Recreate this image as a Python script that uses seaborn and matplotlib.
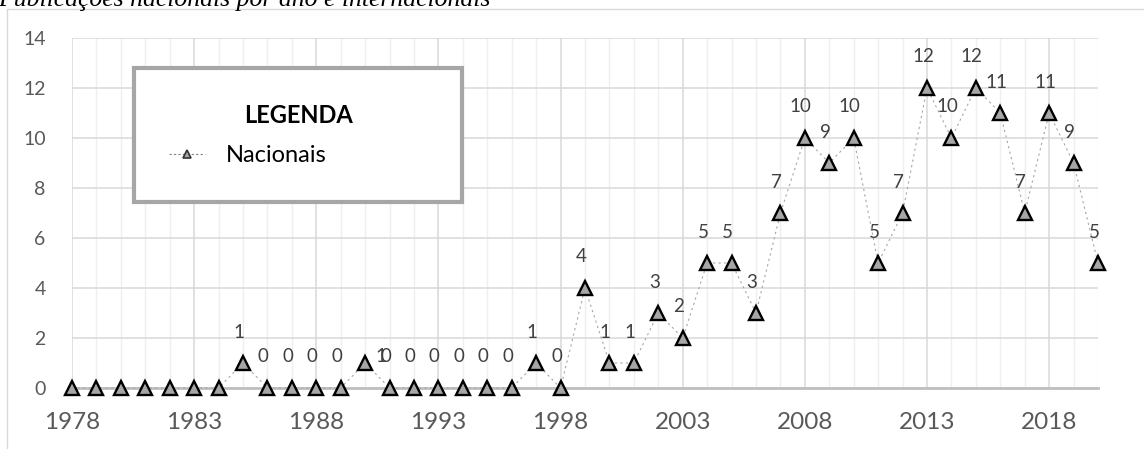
import numpy as np
import pandas as pd
import matplotlib
matplotlib.use("Agg")
import matplotlib.pyplot as plt
from matplotlib.lines import Line2D
from matplotlib.patches import Rectangle
from matplotlib.ticker import MultipleLocator
import seaborn as sns

# data
anos = list(range(1978, 2021))
nacionais = [0, 0, 0, 0, 0, 0, 0,        # 1978-1984
             1, 0, 0, 0, 0,              # 1985-1989
             1, 0, 0, 0, 0, 0, 0,        # 1990-1996
             1, 0, 4, 1, 1, 3, 2,        # 1997-2003
             5, 5, 3, 7, 10, 9, 10,      # 2004-2010
             5, 7, 12, 10, 12, 11, 7,    # 2011-2017
             11, 9, 5]                   # 2018-2020
primeiro_rotulo = 1985  # excel hides the labels before this year
titulo = "Publicações nacionais por ano e internacionais"

sns.set_theme(style="white")
plt.rcParams["font.family"] = ["Lato", "DejaVu Sans"]

df = pd.DataFrame({"ano": anos, "nacionais": nacionais})

W, H = 1144, 449
fig = plt.figure(figsize=(W / 100, H / 100), dpi=100)
ax = fig.add_axes([72 / W, (H - 388) / H, 1026 / W, 350 / H])

sns.lineplot(data=df, x="ano", y="nacionais", ax=ax, color="#a6a6a6",
             linewidth=0.8, linestyle=(0, (2, 3)), marker="^", markersize=9.5,
             markerfacecolor="#a6a6a6", markeredgecolor="black",
             markeredgewidth=1.7, clip_on=False, zorder=4)

ax.set_xlim(1978, 2020)
ax.set_ylim(0, 14)
ax.xaxis.set_major_locator(MultipleLocator(5, offset=3))
ax.xaxis.set_minor_locator(MultipleLocator(1))
ax.yaxis.set_major_locator(MultipleLocator(2))
ax.grid(which="major", color="#d9d9d9", linewidth=1.1)
ax.grid(which="minor", axis="x", color="#efefef", linewidth=1.0)
ax.set_axisbelow(True)
for s in ["top", "right", "left"]:
    ax.spines[s].set_visible(False)
ax.spines["bottom"].set_color("#bfbfbf")
ax.spines["bottom"].set_linewidth(2)
ax.tick_params(axis="x", which="both", length=0, pad=17, labelsize=17.5, labelcolor="#595959")
ax.tick_params(axis="y", length=0, pad=19, labelsize=14, labelcolor="#595959")
ax.set_xlabel("")
ax.set_ylabel("")

# data labels above each marker
for a, v in zip(anos, nacionais):
    if a < primeiro_rotulo:
        continue
    if a == 1990:
        # excel pushed this one aside with a leader line
        ax.annotate(str(v), xy=(a, v), xytext=(16, 6), textcoords="offset pixels",
                    ha="center", va="center", fontsize=13.5, color="#404040",
                    arrowprops=dict(arrowstyle="-", color="#a6a6a6", lw=1,
                                    shrinkA=4, shrinkB=6))
        continue
    ax.annotate(str(v), xy=(a, v), xytext=(-4, 31), textcoords="offset pixels",
                ha="center", va="center", fontsize=13.5, color="#404040")

handle = Line2D([], [], color="#808080", linewidth=0.8, linestyle=(0, (2, 2)),
                marker="^", markersize=6, markerfacecolor="#a6a6a6",
                markeredgecolor="#333333", markeredgewidth=1.2)
leg = ax.legend(handles=[handle], labels=["Nacionais"], title="LEGENDA",
                loc="upper left", bbox_to_anchor=(0.0604, 0.531, 0.320, 0.383),
                mode="expand", borderaxespad=0, fontsize=17, borderpad=1.5,
                labelspacing=0.8, handlelength=1.5, handletextpad=0.9,
                fancybox=False, framealpha=1, edgecolor="#a6a6a6",
                title_fontproperties={"weight": "bold", "size": 17})
leg.get_frame().set_linewidth(3)
leg.get_title().set_color("black")
for t in leg.get_texts():
    t.set_color("black")

# outer chart border, cut at right and bottom like the screenshot
fig.patches.append(Rectangle((7 / W, -0.1), 1.2, 1 - 9 / H + 0.1,
                             transform=fig.transFigure, fill=False,
                             edgecolor="#d9d9d9", linewidth=1))
fig.text(-2 / W, 1 - 6 / H, titulo, family="Liberation Serif", style="italic",
         fontsize=18.5, color="black", va="baseline", ha="left")

fig.savefig("out.png", dpi=100)
